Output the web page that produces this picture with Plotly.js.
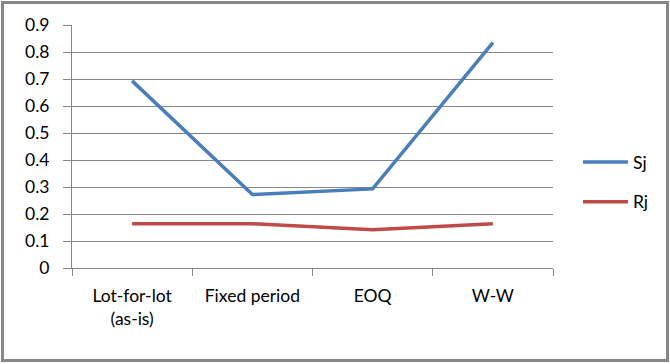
<!DOCTYPE html>
<html><head><meta charset="utf-8">
<script src="https://cdn.plot.ly/plotly-3.0.1.min.js"></script>
<style>html,body{margin:0;padding:0;background:#fff}#wrap{position:relative;width:670px;height:364px}#chart{width:670px;height:364px}#border{position:absolute;left:1px;top:1px;width:668px;height:361px;box-sizing:border-box;border:3px solid #878787;pointer-events:none}</style>
</head><body><div id="wrap"><div id="chart"></div><div id="border"></div></div>
<script>
var categories = ["Lot-for-lot<br>(as-is)", "Fixed period", "EOQ", "W-W"];
var sj = [0.693, 0.272, 0.293, 0.835];
var rj = [0.164, 0.164, 0.142, 0.164];
var yTicks = [0, 0.1, 0.2, 0.3, 0.4, 0.5, 0.6, 0.7, 0.8, 0.9];
var yTickText = ["0", "0.1", "0.2", "0.3", "0.4", "0.5", "0.6", "0.7", "0.8", "0.9"];

var font = {family: "Lato, 'Open Sans', sans-serif", size: 17.5, color: "#000"};
var data = [
  {x: categories, y: sj, type: "scatter", mode: "lines", name: "Sj", legendgroup: "a",
   line: {color: "#4A7EBB", width: 3.5}},
  {x: categories, y: rj, type: "scatter", mode: "lines", name: "Rj", legendgroup: "b",
   line: {color: "#BE4B48", width: 3.5}}
];
var layout = {
  width: 670, height: 364,
  margin: {l: 71.5, r: 117, t: 25, b: 96},
  paper_bgcolor: "#fff", plot_bgcolor: "#fff",
  font: font,
  showlegend: true,
  legend: {xref: "container", yref: "container", x: 578/670, y: 1 - 144/364, yanchor: "top", xanchor: "left",
           traceorder: "grouped", tracegroupgap: 14, itemwidth: 45, font: font, bgcolor: "rgba(0,0,0,0)"},
  xaxis: {type: "category", range: [-0.5, 3.5], tickson: "boundaries", ticks: "outside", ticklen: 7, tickcolor: "#868686",
          showline: true, linecolor: "#868686", linewidth: 1, showgrid: false, zeroline: false,
          tickfont: font, ticklabelstandoff: 12, fixedrange: true},
  yaxis: {range: [0, 0.9], tickvals: yTicks, ticktext: yTickText, ticks: "outside", ticklen: 8, tickcolor: "#868686",
          showline: true, linecolor: "#868686", linewidth: 1, showgrid: true, gridcolor: "#868686", gridwidth: 1,
          zeroline: false, tickfont: font, ticklabelstandoff: 10, fixedrange: true}
};
Plotly.newPlot("chart", data, layout, {displayModeBar: false, staticPlot: true});
</script></body></html>
